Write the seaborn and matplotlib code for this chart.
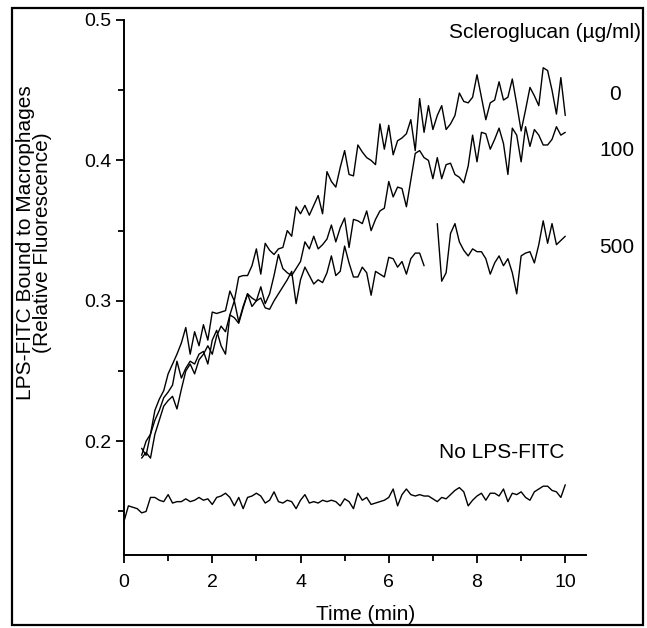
"""
LPS-FITC binding to macrophages over time, with and without scleroglucan.
"""

import numpy as np
import pandas as pd
import seaborn as sns
import matplotlib.pyplot as plt
from matplotlib.patches import Rectangle
from matplotlib.ticker import MultipleLocator

t_curves = np.round(np.arange(0.4, 10.01, 0.1), 1)      # 0.4 ... 10.0
t_base = np.round(np.arange(0.0, 10.01, 0.1), 1)        # 0.0 ... 10.0

scl_0 = [0.190, 0.200, 0.205, 0.222, 0.230, 0.236,
         0.248, 0.255, 0.262, 0.270, 0.281, 0.262, 0.278, 0.268, 0.283, 0.272,
         0.292, 0.291, 0.292, 0.293, 0.307, 0.300, 0.317, 0.318, 0.318, 0.325,
         0.337, 0.319, 0.341, 0.336, 0.333, 0.337, 0.338, 0.350, 0.346, 0.367,
         0.362, 0.368, 0.361, 0.368, 0.375, 0.362, 0.392, 0.385, 0.381, 0.395,
         0.407, 0.390, 0.389, 0.411, 0.406, 0.402, 0.400, 0.397, 0.426, 0.408,
         0.425, 0.404, 0.414, 0.416, 0.419, 0.429, 0.407, 0.444, 0.420, 0.439,
         0.422, 0.432, 0.439, 0.422, 0.426, 0.432, 0.448, 0.442, 0.441, 0.445,
         0.461, 0.445, 0.429, 0.441, 0.443, 0.456, 0.443, 0.445, 0.458, 0.440,
         0.421, 0.436, 0.452, 0.446, 0.439, 0.466, 0.464, 0.450, 0.433, 0.459,
         0.432]

scl_100 = [0.195, 0.190, 0.205, 0.215, 0.222, 0.231,
           0.235, 0.240, 0.257, 0.245, 0.252, 0.257, 0.255, 0.262, 0.264, 0.255,
           0.272, 0.279, 0.268, 0.262, 0.290, 0.300, 0.285, 0.296, 0.305, 0.302,
           0.300, 0.310, 0.298, 0.305, 0.318, 0.333, 0.323, 0.320, 0.318, 0.323,
           0.328, 0.342, 0.337, 0.346, 0.337, 0.340, 0.344, 0.354, 0.342, 0.352,
           0.359, 0.338, 0.358, 0.357, 0.355, 0.364, 0.350, 0.358, 0.364, 0.366,
           0.385, 0.374, 0.381, 0.380, 0.367, 0.386, 0.405, 0.407, 0.402, 0.400,
           0.387, 0.402, 0.387, 0.397, 0.398, 0.390, 0.388, 0.384, 0.396, 0.418,
           0.399, 0.420, 0.419, 0.408, 0.415, 0.423, 0.412, 0.390, 0.423, 0.418,
           0.399, 0.424, 0.410, 0.422, 0.418, 0.411, 0.411, 0.415, 0.424, 0.418,
           0.420]

# gap in the recording around 7 min
scl_500 = [0.188, 0.192, 0.188, 0.205, 0.215, 0.225,
           0.229, 0.232, 0.223, 0.237, 0.250, 0.255, 0.248, 0.258, 0.262, 0.268,
           0.262, 0.275, 0.282, 0.278, 0.290, 0.288, 0.284, 0.295, 0.305, 0.296,
           0.300, 0.302, 0.295, 0.294, 0.300, 0.305, 0.310, 0.315, 0.321, 0.298,
           0.315, 0.324, 0.318, 0.312, 0.315, 0.313, 0.320, 0.332, 0.318, 0.321,
           0.339, 0.327, 0.317, 0.317, 0.324, 0.320, 0.304, 0.321, 0.319, 0.317,
           0.331, 0.330, 0.324, 0.328, 0.319, 0.330, 0.334, 0.334, 0.325, np.nan,
           np.nan, 0.355, 0.314, 0.320, 0.348, 0.355, 0.342, 0.336, 0.332, 0.337,
           0.335, 0.335, 0.330, 0.319, 0.327, 0.332, 0.325, 0.330, 0.320, 0.305,
           0.332, 0.334, 0.335, 0.327, 0.340, 0.357, 0.341, 0.355, 0.340, 0.343,
           0.346]

no_lps = [0.143, 0.154, 0.153, 0.152, 0.149, 0.150, 0.160, 0.160, 0.158, 0.157,
          0.162, 0.156, 0.157, 0.157, 0.159, 0.157, 0.158, 0.160, 0.158, 0.159,
          0.155, 0.160, 0.161, 0.163, 0.160, 0.154, 0.160, 0.152, 0.160, 0.161,
          0.163, 0.161, 0.156, 0.158, 0.164, 0.157, 0.156, 0.158, 0.157, 0.152,
          0.158, 0.162, 0.156, 0.157, 0.156, 0.158, 0.157, 0.158, 0.157, 0.154,
          0.159, 0.157, 0.152, 0.163, 0.158, 0.160, 0.155, 0.156, 0.157, 0.158,
          0.160, 0.166, 0.154, 0.162, 0.166, 0.162, 0.161, 0.162, 0.161, 0.161,
          0.159, 0.157, 0.160, 0.159, 0.162, 0.165, 0.167, 0.164, 0.154, 0.158,
          0.161, 0.163, 0.158, 0.163, 0.163, 0.161, 0.166, 0.157, 0.163, 0.162,
          0.164, 0.160, 0.158, 0.164, 0.166, 0.168, 0.168, 0.165, 0.164, 0.160,
          0.169]

series_names = ["0", "100", "500", "No LPS-FITC"]

# Build one long table; split each series into segments at missing values
frames = []
for name, t, v in zip(series_names,
                      [t_curves, t_curves, t_curves, t_base],
                      [scl_0, scl_100, scl_500, no_lps]):
    d = pd.DataFrame({"time": t, "value": v})
    d["segment"] = name + "_" + d["value"].isna().cumsum().astype(str)
    frames.append(d.dropna())
df = pd.concat(frames, ignore_index=True)

sns.set_style("ticks")
plt.rcParams["font.family"] = ["Liberation Sans", "DejaVu Sans"]
plt.rcParams["text.color"] = "black"

W, H = 647, 628
fig = plt.figure(figsize=(W / 100, H / 100), dpi=100)
ax = fig.add_axes([124 / W, 1 - 555 / H, (586 - 124) / W, (555 - 20) / H])

sns.lineplot(data=df, x="time", y="value", units="segment", estimator=None,
             color="black", linewidth=1.0, legend=False, ax=ax)

ax.set_xlim(0, 10.47)
ax.set_ylim(0.119, 0.5)
ax.xaxis.set_minor_locator(MultipleLocator(1))
ax.yaxis.set_minor_locator(MultipleLocator(0.05))
ax.set_yticks([0.2, 0.3, 0.4, 0.5])
ax.set_yticklabels(["0.2", "0.3", "0.4", "0.5"])
ax.set_xticks([0, 2, 4, 6, 8, 10])
ax.set_xticklabels(["0", "2", "4", "6", "8", "10"])

for side in ["top", "right"]:
    ax.spines[side].set_visible(False)
for side in ["left", "bottom"]:
    ax.spines[side].set_linewidth(1.4)
    ax.spines[side].set_color("black")

ax.tick_params(axis="both", which="major", length=6, width=1.3, color="black",
               labelsize=14, labelcolor="black")
ax.tick_params(axis="both", which="minor", length=4, width=1.3, color="black")
ax.tick_params(axis="x", which="major", pad=8)
ax.tick_params(axis="y", which="major", pad=3)
ax.set_xlabel("")
ax.set_ylabel("")

# axis titles
fig.text(366 / W, 1 - 615 / H, "Time (min)", ha="center", va="center",
         fontsize=15, color="black")
fig.text(34 / W, 1 - 243 / H, "LPS-FITC Bound to Macrophages\n(Relative Fluorescence)",
         ha="center", va="center", rotation=90, fontsize=15, linespacing=0.85,
         multialignment="center", color="black")

# curve annotations
fig.text(641 / W, 1 - 33 / H, "Scleroglucan (\u00b5g/ml)", ha="right", va="center",
         fontsize=15, color="black")
fig.text(615 / W, 1 - 95 / H, "0", ha="center", va="center", fontsize=15, color="black")
fig.text(617 / W, 1 - 150 / H, "100", ha="center", va="center", fontsize=15, color="black")
fig.text(617 / W, 1 - 247 / H, "500", ha="center", va="center", fontsize=15, color="black")
fig.text(502 / W, 1 - 452 / H, "No LPS-FITC", ha="center", va="center",
         fontsize=15, color="black")

# black frame around the whole figure
fig.patches.append(Rectangle((12 / W, 1 - 625 / H), 631 / W, 617 / H,
                             transform=fig.transFigure, fill=False,
                             edgecolor="black", linewidth=1.6))

fig.savefig("out.png", dpi=100)
